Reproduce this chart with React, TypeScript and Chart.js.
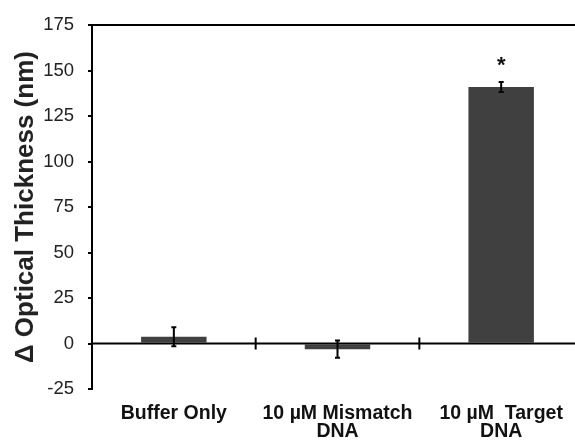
import React, { useEffect, useRef } from "react";
import { Chart, registerables } from "chart.js";

Chart.register(...registerables);

const categories: string[][] = [["Buffer Only"], ["10 µM Mismatch", "DNA"], ["10 µM  Target", "DNA"]];
const values: number[] = [3.7, -3.1, 141.0];
const errors: number[] = [5.2, 4.7, 2.7];
const marks: string[] = ["", "", "*"];
const yTitle = "Δ Optical Thickness (nm)";
const yMin = -25;
const yMax = 175;
const yStep = 25;

const FONT = '"Liberation Sans", Arial, sans-serif';

const decorPlugin = {
  id: "decor",
  afterDatasetsDraw(chart: any) {
    const ctx = chart.ctx;
    const area = chart.chartArea;
    const x = chart.scales.x;
    const y = chart.scales.y;
    const meta = chart.getDatasetMeta(0);
    ctx.save();
    ctx.strokeStyle = "#000";
    ctx.lineWidth = 2;
    // top border
    ctx.beginPath();
    ctx.moveTo(area.left, area.top);
    ctx.lineTo(area.right, area.top);
    ctx.stroke();
    // zero line
    const y0 = y.getPixelForValue(0);
    ctx.beginPath();
    ctx.moveTo(area.left, y0);
    ctx.lineTo(area.right, y0);
    ctx.stroke();
    // category boundary ticks
    for (let i = 0; i < categories.length - 1; i++) {
      const bx = (x.getPixelForValue(i) + x.getPixelForValue(i + 1)) / 2;
      ctx.beginPath();
      ctx.moveTo(bx, y0 - 6);
      ctx.lineTo(bx, y0 + 6);
      ctx.stroke();
    }
    // error bars
    values.forEach((v, i) => {
      const px = meta.data[i].x;
      const top = y.getPixelForValue(v + errors[i]);
      const bot = y.getPixelForValue(v - errors[i]);
      ctx.beginPath();
      ctx.moveTo(px, top);
      ctx.lineTo(px, bot);
      ctx.moveTo(px - 2.5, top);
      ctx.lineTo(px + 2.5, top);
      ctx.moveTo(px - 2.5, bot);
      ctx.lineTo(px + 2.5, bot);
      ctx.stroke();
      if (marks[i]) {
        ctx.fillStyle = "#111";
        ctx.font = `bold 22px ${FONT}`;
        ctx.textAlign = "center";
        ctx.textBaseline = "alphabetic";
        ctx.fillText(marks[i], px, top - 10);
      }
    });
    ctx.restore();
  },
};

export default function App() {
  const ref = useRef<HTMLCanvasElement>(null);
  useEffect(() => {
    if (!ref.current) return;
    const chart = new Chart(ref.current, {
      type: "bar",
      data: {
        labels: categories,
        datasets: [
          {
            data: values,
            backgroundColor: "#404040",
            borderWidth: 0,
            categoryPercentage: 1,
            barPercentage: 0.4,
          },
        ],
      },
      options: {
        responsive: false,
        animation: false,
        layout: { padding: { top: 22, right: 17, left: 0, bottom: 0 } },
        plugins: { legend: { display: false }, tooltip: { enabled: false } },
        scales: {
          x: {
            grid: { display: false, drawTicks: false },
            border: { display: false },
            ticks: {
              color: "#111",
              padding: 15,
              maxRotation: 0,
              autoSkip: false,
              font: { family: FONT, size: 19.5, weight: "bold", lineHeight: 0.94 },
            },
            afterFit(scale: any) {
              scale.height = 53;
            },
          },
          y: {
            min: yMin,
            max: yMax,
            grid: { drawOnChartArea: false, drawTicks: true, tickLength: 4, color: "#000", lineWidth: 2 },
            border: { display: true, color: "#000", width: 2 },
            ticks: {
              stepSize: yStep,
              color: "#222",
              padding: 14,
              font: { family: FONT, size: 18.5 },
            },
            title: {
              display: true,
              text: yTitle,
              color: "#222",
              padding: { top: 10, bottom: 0 },
              font: { family: FONT, size: 26, weight: "bold", lineHeight: 1.2 },
            },
            afterFit(scale: any) {
              scale.width = 92;
            },
          },
        },
      },
      plugins: [decorPlugin],
    });
    return () => chart.destroy();
  }, []);
  return (
    <div style={{ position: "absolute", left: 0, top: 0, width: 575, height: 442, overflow: "hidden", background: "#fff" }}>
      <canvas ref={ref} width={600} height={442} style={{ display: "block" }} />
    </div>
  );
}
